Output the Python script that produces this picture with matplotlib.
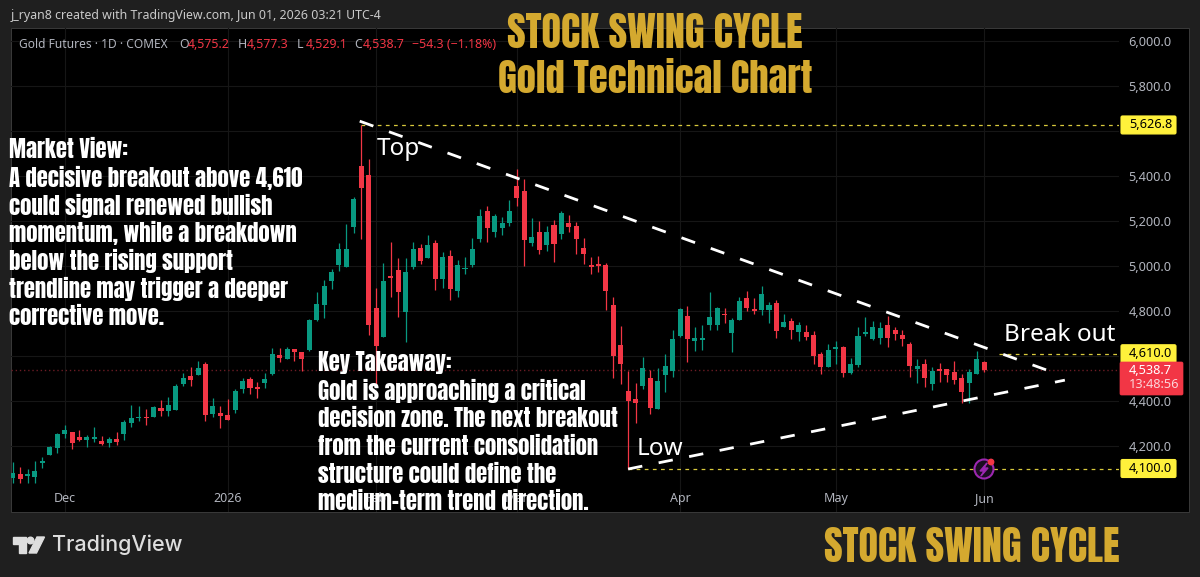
import matplotlib
matplotlib.use("Agg")
import matplotlib.pyplot as plt
from matplotlib.patches import Rectangle, FancyBboxPatch, Polygon, Circle

# OHLC, one value per trading day
opens = [4059, 4075, 4068, 4064, 4126, 4160, 4191, 4252, 4261, 4239,
         4228, 4233, 4222, 4213, 4231, 4252, 4304, 4323, 4330, 4327,
         4367, 4355, 4361, 4475, 4513, 4516, 4563, 4342, 4348, 4336,
         4360, 4453, 4499, 4461, 4481, 4520, 4603, 4585, 4630, 4616,
         4627, 4759, 4828, 4932, 5004, 4998, 5172, 5444, 5403, 4812,
         4683, 4958, 4982, 4794, 4994, 5080, 5038, 5101, 4942, 5046,
         4890, 4985, 5005, 5120, 5243, 5153, 5169, 5193, 5354, 5332,
         5102, 5153, 5093, 5181, 5142, 5190, 5179, 5080, 5005, 5007,
         5005, 4825, 4649, 4446, 4409, 4465, 4502, 4364, 4514, 4533,
         4689, 4778, 4668, 4671, 4739, 4738, 4788, 4702, 4761, 4859,
         4809, 4804, 4803, 4837, 4729, 4756, 4708, 4708, 4693, 4609,
         4551, 4630, 4639, 4524, 4560, 4698, 4674, 4681, 4739, 4717,
         4692, 4652, 4542, 4566, 4477, 4544, 4541, 4529, 4504, 4481,
         4519, 4575.2]
highs = [4127, 4105, 4098, 4135, 4150, 4201, 4256, 4293, 4264, 4270,
         4247, 4286, 4244, 4241, 4264, 4318, 4382, 4379, 4364, 4379,
         4404, 4419, 4478, 4523, 4550, 4578, 4575, 4413, 4379, 4409,
         4452, 4501, 4505, 4486, 4523, 4637, 4634, 4641, 4633, 4619,
         4764, 4886, 4936, 4985, 5101, 5185, 5305, 5627, 5474, 4901,
         5012, 5108, 5038, 5037, 5108, 5097, 5138, 5116, 5064, 5071,
         5027, 5039, 5126, 5253, 5265, 5231, 5218, 5293, 5430, 5387,
         5212, 5200, 5179, 5205, 5243, 5225, 5194, 5126, 5039, 5046,
         5015, 4864, 4733, 4533, 4480, 4597, 4538, 4548, 4607, 4716,
         4812, 4822, 4727, 4738, 4883, 4819, 4815, 4770, 4864, 4890,
         4856, 4913, 4841, 4849, 4787, 4767, 4753, 4738, 4711, 4619,
         4653, 4668, 4644, 4591, 4730, 4772, 4756, 4753, 4779, 4730,
         4718, 4664, 4587, 4588, 4553, 4567, 4544, 4579, 4522, 4541,
         4622, 4577.3]
lows = [4034, 4034, 4034, 4034, 4104, 4160, 4170, 4234, 4188, 4221,
        4197, 4219, 4203, 4194, 4206, 4227, 4283, 4311, 4293, 4327,
        4333, 4335, 4361, 4467, 4468, 4516, 4313, 4330, 4280, 4315,
        4348, 4434, 4430, 4415, 4456, 4517, 4572, 4585, 4579, 4535,
        4624, 4756, 4767, 4898, 4978, 4998, 5145, 5121, 4693, 4464,
        4683, 4864, 4775, 4664, 4987, 5007, 5034, 4893, 4904, 4849,
        4864, 4965, 4994, 5107, 5105, 5130, 5139, 5178, 5268, 5002,
        5089, 5055, 5068, 5018, 5120, 5153, 5053, 5010, 4966, 4973,
        4805, 4501, 4476, 4100, 4301, 4453, 4342, 4364, 4442, 4508,
        4686, 4575, 4622, 4627, 4716, 4716, 4748, 4619, 4761, 4801,
        4787, 4781, 4745, 4680, 4727, 4676, 4667, 4671, 4563, 4520,
        4550, 4564, 4508, 4520, 4553, 4690, 4671, 4652, 4640, 4671,
        4644, 4508, 4479, 4462, 4449, 4483, 4483, 4474, 4393, 4393,
        4519, 4529.1]
closes = [4079, 4053, 4075, 4090, 4135, 4197, 4252, 4270, 4213, 4227,
          4239, 4240, 4210, 4231, 4216, 4308, 4323, 4329, 4326, 4372,
          4358, 4382, 4467, 4501, 4493, 4547, 4338, 4379, 4333, 4318,
          4446, 4490, 4456, 4453, 4496, 4609, 4593, 4630, 4618, 4588,
          4760, 4833, 4910, 4975, 5076, 5076, 5298, 5348, 4738, 4646,
          4932, 4945, 4883, 4975, 5074, 5022, 5093, 4942, 5042, 4896,
          5005, 4991, 5076, 5222, 5169, 5222, 5190, 5245, 5304, 5116,
          5129, 5071, 5153, 5096, 5237, 5172, 5119, 5055, 4997, 5002,
          4889, 4599, 4566, 4400, 4393, 4548, 4369, 4489, 4554, 4674,
          4809, 4674, 4680, 4680, 4772, 4812, 4784, 4761, 4846, 4815,
          4800, 4876, 4825, 4711, 4750, 4717, 4736, 4684, 4600, 4553,
          4627, 4639, 4526, 4563, 4689, 4705, 4727, 4723, 4680, 4699,
          4677, 4554, 4554, 4504, 4532, 4535, 4516, 4493, 4440, 4529,
          4588, 4538.7]

month_pos = [7, 29, 49, 68, 90, 111, 131]
month_labels = ["Dec", "2026", "Feb", "Mar", "Apr", "May", "Jun"]
price_ticks = [4200, 4400, 4600, 4800, 5000, 5200, 5400, 5600, 5800, 6000]
price_labels = ["4,200.0", "4,400.0", "", "4,800.0", "5,000.0", "5,200.0",
                "5,400.0", "", "5,800.0", "6,000.0"]

# trendlines, as (bar, price) pairs
top_line_x, top_line_y = [46.8, 139.6], [5644, 4536]
low_line_x, low_line_y = [83, 141.9], [4098, 4493]

market_view = ["Market View:",
               "A decisive breakout above 4,610",
               "could signal renewed bullish",
               "momentum, while a breakdown",
               "below the rising support",
               "trendline may trigger a deeper",
               "corrective move."]
key_takeaway = ["Key Takeaway:",
                "Gold is approaching a critical",
                "decision zone. The next breakout",
                "from the current consolidation",
                "structure could define the",
                "medium-term trend direction."]

GREEN = "#089981"
RED = "#F23645"
GOLD = "#D4A92F"
BG = "#1f1f1f"
W, H = 1200, 577
HEAVY = ["Anton", "Fira Sans Extra Condensed", "DejaVu Sans"]
UI = ["Noto Sans", "DejaVu Sans"]


def py(price):
    return 41 + (6000 - price) * 0.225


fig = plt.figure(figsize=(W / 100, H / 100), dpi=100, facecolor=BG)
fig.add_artist(Rectangle((11 / W, 1 - 512 / H), 1178 / W, 484 / H, transform=fig.transFigure,
                         facecolor="black", edgecolor="#3a3a3a", linewidth=0.7, zorder=-1))

ax = fig.add_axes([11 / W, 1 - 512 / H, 1108 / W, 484 / H])
ax.patch.set_alpha(0)
for s in ax.spines.values():
    s.set_visible(False)
ax.set_xlim(-0.23, 149.2)
ax.set_ylim(3907, 6058)
ax.set_axisbelow(True)
ax.grid(True, color="#161616", linewidth=0.8)
ax.yaxis.tick_right()
ax.set_yticks(price_ticks, price_labels, family=UI, fontsize=9.2, color="#b2b5be")
ax.set_xticks(month_pos, month_labels, family=UI, fontsize=9, color="#b2b5be")
ax.tick_params(length=0)
ax.tick_params(axis="y", pad=7)
ax.tick_params(axis="x", pad=-14.5)

xs = list(range(len(opens)))
colors = [GREEN if c >= o else RED for o, c in zip(opens, closes)]
ax.axhline(closes[-1], color="#6b1c24", linewidth=1, linestyle=(0, (1, 2)))
ax.vlines(xs, lows, highs, colors=colors, linewidth=0.9, zorder=3)
ax.bar(xs, [max(abs(c - o), 4) for o, c in zip(opens, closes)],
       bottom=[min(o, c) for o, c in zip(opens, closes)],
       width=0.68, color=colors, linewidth=0, zorder=4)

ax.hlines(5626.8, 47, 149.2, color="#d8c93c", linewidth=0.9, linestyles=[(0, (3, 3.5))], zorder=2)
ax.hlines(4610, 133, 149.2, color="#d8c93c", linewidth=0.9, linestyles=[(0, (3, 3.5))], zorder=2)
ax.hlines(4100, 83, 149.2, color="#d8c93c", linewidth=0.9, linestyles=[(0, (3, 3.5))], zorder=2)

line_style = dict(color="white", linewidth=2, linestyle=(0, (5.2, 6)), zorder=6)
ax.plot(top_line_x, top_line_y, **line_style)
ax.plot(low_line_x, low_line_y, **line_style)

# everything else sits on a pixel-sized overlay
ov = fig.add_axes([0, 0, 1, 1], zorder=5)
ov.set_xlim(0, W)
ov.set_ylim(H, 0)
ov.axis("off")

# price tags on the right
for price, label in [(5626.8, "5,626.8"), (4610, "4,610.0"), (4100, "4,100.0")]:
    ov.add_patch(FancyBboxPatch((1121, py(price) - 9), 55, 18, boxstyle="round,pad=0,rounding_size=1.5",
                                facecolor="#FFF13B", edgecolor="#FFF13B", linewidth=0.8))
    ov.text(1129, py(price), label, color="black", family=UI, fontsize=9.2, va="center", ha="left")
ov.add_patch(FancyBboxPatch((1120, 362), 63, 33, boxstyle="round,pad=0,rounding_size=1.5",
                            facecolor=RED, edgecolor=RED, linewidth=0.5))
ov.text(1129, 370, "4,538.7", color="white", family=UI, fontsize=9.2, va="center")
ov.text(1129, 385, "13:48:56", color="#fbd5d9", family=UI, fontsize=9.2, va="center")

# header and legend
ov.text(11, 16, "j_ryan8 created with TradingView.com, Jun 01, 2026 03:21 UTC-4",
        color="#c9c9c9", family=UI, fontsize=8.9, va="center")
ov.text(19, 45, "Gold Futures · 1D · COMEX", color="#b2b5be", family=UI, fontsize=8.6, va="center")
for x, label, value in [(179, "O", "4,575.2"), (238, "H", "4,577.3"), (297, "L", "4,529.1"), (354, "C", "4,538.7")]:
    ov.text(x, 45, label, color="#b2b5be", family=UI, fontsize=8.9, va="center")
    ov.text(x + 9, 45, value, color=RED, family=UI, fontsize=8.9, va="center")
ov.text(412, 45, "−54.3 (−1.18%)", color=RED, family=UI, fontsize=8.9, va="center")


# gold titles
def gold(x, y, s, size):
    ov.text(x, y, s, color=GOLD, family=HEAVY, fontsize=size, ha="center", va="center")


gold(655, 33, "STOCK SWING CYCLE", 29)
gold(655, 79, "Gold Technical Chart", 27.7)
gold(972, 547, "STOCK SWING CYCLE", 29)

# overlay notes
for i, line in enumerate(market_view):
    ov.text(9, 150 + i * 27.75, line, color="white", family=HEAVY, fontsize=16.4, va="center")
for i, line in enumerate(key_takeaway):
    ov.text(318, 363 + i * 27.8, line, color="white", family=HEAVY, fontsize=16.4, va="center")

ov.text(377, 149, "Top", color="white", family=UI, fontsize=17.5, va="center")
ov.text(637, 449, "Low", color="white", family=UI, fontsize=17.5, va="center")
ov.text(1004, 335, "Break out", color="white", family=UI, fontsize=17.5, va="center")

# lightning badge
ov.add_patch(Circle((984, 469), 9.5, facecolor="#1a0d20", edgecolor="#9C27B0", linewidth=1.5))
ov.add_patch(Polygon([(987, 463), (980, 471), (984, 471), (981, 476), (988, 468), (984, 468)], color="#9C27B0"))
ov.add_patch(Circle((991, 462), 2.7, color=RED))

# TradingView logo
logo = "#dedede"
ov.add_patch(Polygon([(13, 537), (26, 537), (26, 553), (19, 553), (19, 544), (13, 544)], color=logo))
ov.add_patch(Circle((30.5, 540.5), 3.3, color=logo))
ov.add_patch(Polygon([(37, 537), (44.5, 537), (36.5, 553), (29, 553)], color=logo))
ov.text(52, 545, "TradingView", color=logo, family=["Inter", "DejaVu Sans"], fontweight="medium",
        fontsize=15.5, va="center")

fig.savefig("out.png", dpi=100, facecolor=BG)
